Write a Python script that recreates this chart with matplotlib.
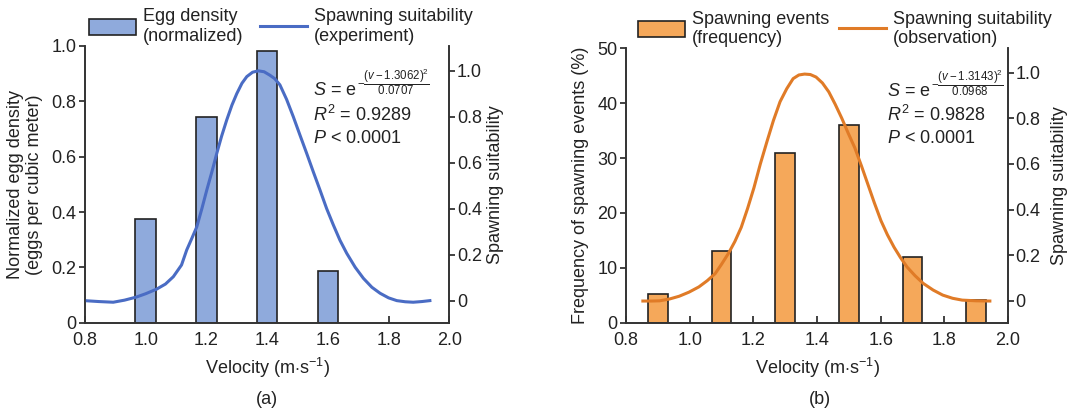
import numpy as np
import matplotlib
matplotlib.use("Agg")
import matplotlib.pyplot as plt
from matplotlib.patches import Patch
from matplotlib.lines import Line2D

plt.rcParams['font.family'] = ['Liberation Sans', 'DejaVu Sans']
plt.rcParams['font.size'] = 13
plt.rcParams['mathtext.fontset'] = 'custom'
plt.rcParams['mathtext.rm'] = 'Liberation Sans'
plt.rcParams['mathtext.it'] = 'Liberation Sans:italic'
plt.rcParams['text.color'] = '#222222'
plt.rcParams['axes.labelcolor'] = '#222222'
plt.rcParams['xtick.color'] = '#222222'
plt.rcParams['ytick.color'] = '#222222'

# (a) egg density vs velocity
vel_a = [1.0, 1.2, 1.4, 1.6]
egg_density = [0.376, 0.745, 0.983, 0.186]
curve_a_v = [0.797, 0.845, 0.893, 0.930, 0.968, 1.000, 1.036, 1.065, 1.091, 1.118,
             1.135, 1.150, 1.168, 1.185, 1.201, 1.218, 1.234, 1.250, 1.267, 1.284,
             1.300, 1.317, 1.333, 1.352, 1.371, 1.390, 1.409, 1.425, 1.442, 1.464,
             1.486, 1.508, 1.530, 1.552, 1.574, 1.596, 1.618, 1.640, 1.662, 1.690,
             1.717, 1.745, 1.772, 1.800, 1.827, 1.855, 1.881, 1.910, 1.936]
curve_a_s = [0.0, -0.004, -0.007, 0.002, 0.015, 0.03, 0.05, 0.072, 0.104, 0.155,
             0.22, 0.265, 0.32, 0.40, 0.48, 0.56, 0.64, 0.715, 0.786, 0.85,
             0.90, 0.945, 0.974, 0.993, 0.999, 0.995, 0.98, 0.965, 0.938, 0.875,
             0.80, 0.72, 0.641, 0.56, 0.481, 0.40, 0.329, 0.262, 0.206, 0.145,
             0.097, 0.058, 0.032, 0.012, 0.0, -0.005, -0.007, -0.004, 0.0]

# (b) spawning events vs velocity
vel_b = [0.9, 1.1, 1.3, 1.5, 1.7, 1.9]
events = [5.2, 13.0, 31.0, 36.0, 12.0, 4.2]
curve_b_v = [0.853, 0.880, 0.906, 0.937, 0.967, 0.998, 1.029, 1.055, 1.080, 1.100,
             1.121, 1.142, 1.162, 1.182, 1.202, 1.222, 1.243, 1.263, 1.284, 1.305,
             1.325, 1.343, 1.361, 1.379, 1.397, 1.417, 1.437, 1.457, 1.478, 1.498,
             1.519, 1.540, 1.560, 1.580, 1.601, 1.621, 1.642, 1.662, 1.683, 1.708,
             1.734, 1.765, 1.795, 1.826, 1.856, 1.900, 1.943]
curve_b_s = [-0.001, -0.001, 0.0, 0.008, 0.02, 0.038, 0.061, 0.088, 0.119, 0.16,
             0.206, 0.26, 0.322, 0.405, 0.496, 0.60, 0.699, 0.79, 0.873, 0.93,
             0.974, 0.99, 0.994, 0.992, 0.981, 0.955, 0.916, 0.862, 0.80, 0.735,
             0.67, 0.59, 0.51, 0.43, 0.351, 0.29, 0.235, 0.19, 0.148, 0.11,
             0.076, 0.047, 0.025, 0.011, 0.003, 0.0, -0.001]

xticks = [0.8, 1.0, 1.2, 1.4, 1.6, 1.8, 2.0]

W, H = 1080, 413
fig = plt.figure(figsize=(W / 100, H / 100), dpi=100)


def setup(ax, ax2, xlim, ylim, yticks, yticklabels):
    ax.set_xlim(*xlim)
    ax.set_ylim(*ylim)
    ax.set_xticks(xticks)
    ax.set_xticklabels([f"{t:.1f}" for t in xticks])
    ax.set_yticks(yticks)
    ax.set_yticklabels(yticklabels)
    ax2.set_ylim(-0.096, 1.107)
    ax2.set_yticks([0, 0.2, 0.4, 0.6, 0.8, 1.0])
    ax2.set_yticklabels(['0', '0.2', '0.4', '0.6', '0.8', '1.0'])
    for a in (ax, ax2):
        a.spines['top'].set_visible(False)
        for s in a.spines.values():
            s.set_linewidth(1.2)
            s.set_color('#333333')
    ax.tick_params(axis='x', direction='in', length=5, width=1.2, pad=7)
    ax.tick_params(axis='y', direction='out', length=4, width=1.2, pad=2)
    ax2.tick_params(axis='y', direction='out', length=4, width=1.2, pad=1.5)
    ax.set_xlabel(r'Velocity (m$\cdot$s$^{-1}$)', labelpad=5)


def legend(ax2, x0, colsp, face, line, lab1, lab2):
    handles = [Patch(facecolor=face, edgecolor='#222222', linewidth=1.2),
               Line2D([], [], color=line, lw=2.2)]
    ax2.legend(handles, [lab1, lab2], loc='lower left', bbox_to_anchor=(x0, 1.0),
               ncol=2, frameon=False, handlelength=2.6, handleheight=1.0,
               columnspacing=colsp, handletextpad=0.4, borderaxespad=0.0,
               borderpad=0.05, labelspacing=0.2, fontsize=13)


def equation(ax2, x, ys, num, den, r2):
    t = ax2.text(x, ys[0], r'$\mathit{S}$ = e', transform=ax2.transAxes,
                 va='baseline', ha='left')
    ax2.annotate(r'$-\dfrac{(\mathit{v}-' + num + r')^2}{' + den + r'}$',
                 xy=(1.0, 0.0), xycoords=t, xytext=(0.5, 12.5), textcoords='offset points',
                 va='center', ha='left', fontsize=8.3)
    ax2.text(x, ys[1], r'$\mathit{R}^{2}$ = ' + r2, transform=ax2.transAxes,
             va='baseline', ha='left')
    ax2.text(x, ys[2], r'$\mathit{P}$ < 0.0001', transform=ax2.transAxes,
             va='baseline', ha='left')


# ---- panel (a)
blue_bar, blue_line = '#8FAADC', '#4A6CC4'
ax_a = fig.add_axes([85 / W, (H - 322.7) / H, 364.3 / W, 276.7 / H])
ax_a2 = ax_a.twinx()
ax_a.bar(vel_a, egg_density, width=0.068, color=blue_bar, edgecolor='#222222', linewidth=1.2, zorder=2)
ax_a2.plot(curve_a_v, curve_a_s, color=blue_line, lw=2.2, solid_joinstyle='round')
setup(ax_a, ax_a2, (0.8, 2.0), (0, 1.0), [0, 0.2, 0.4, 0.6, 0.8, 1.0],
      ['0', '0.2', '0.4', '0.6', '0.8', '1.0'])
ax_a.set_ylabel('Normalized egg density\n(eggs per cubic meter)', va='center')
ax_a.yaxis.set_label_coords(-0.165, 0.5)
ax_a2.set_ylabel('Spawning suitability', va='center')
ax_a2.yaxis.set_label_coords(1.128, 0.5)
legend(ax_a2, 0.008, 0.9, blue_bar, blue_line, 'Egg density\n(normalized)', 'Spawning suitability\n(experiment)')
equation(ax_a2, 0.626, [0.8226, 0.729, 0.651], '1.3062', '0.0707', '0.9289')
fig.text(267 / W, 1 - 400 / H, '(a)', ha='center', va='center')

# ---- panel (b)
orange_bar, orange_line = '#F5A85A', '#E07B27'
ax_b = fig.add_axes([626 / W, (H - 322.7) / H, 382 / W, 274.4 / H])
ax_b2 = ax_b.twinx()
ax_b.bar(vel_b, events, width=0.062, color=orange_bar, edgecolor='#222222', linewidth=1.2, zorder=2)
ax_b2.plot(curve_b_v, curve_b_s, color=orange_line, lw=2.2, solid_joinstyle='round')
setup(ax_b, ax_b2, (0.81, 1.985), (0, 50), [0, 10, 20, 30, 40, 50],
      ['0', '10', '20', '30', '40', '50'])
ax_b.set_ylabel('Frequency of spawning events (%)', va='center')
ax_b.yaxis.set_label_coords(-0.12, 0.5)
ax_b2.set_ylabel('Spawning suitability', va='center')
ax_b2.yaxis.set_label_coords(1.135, 0.5)
legend(ax_b2, 0.028, 0.55, orange_bar, orange_line, 'Spawning events\n(frequency)', 'Spawning suitability\n(observation)')
equation(ax_b2, 0.683, [0.8265, 0.7347, 0.6556], '1.3143', '0.0968', '0.9828')
fig.text(820 / W, 1 - 400 / H, '(b)', ha='center', va='center')

fig.savefig('out.png', dpi=100)
